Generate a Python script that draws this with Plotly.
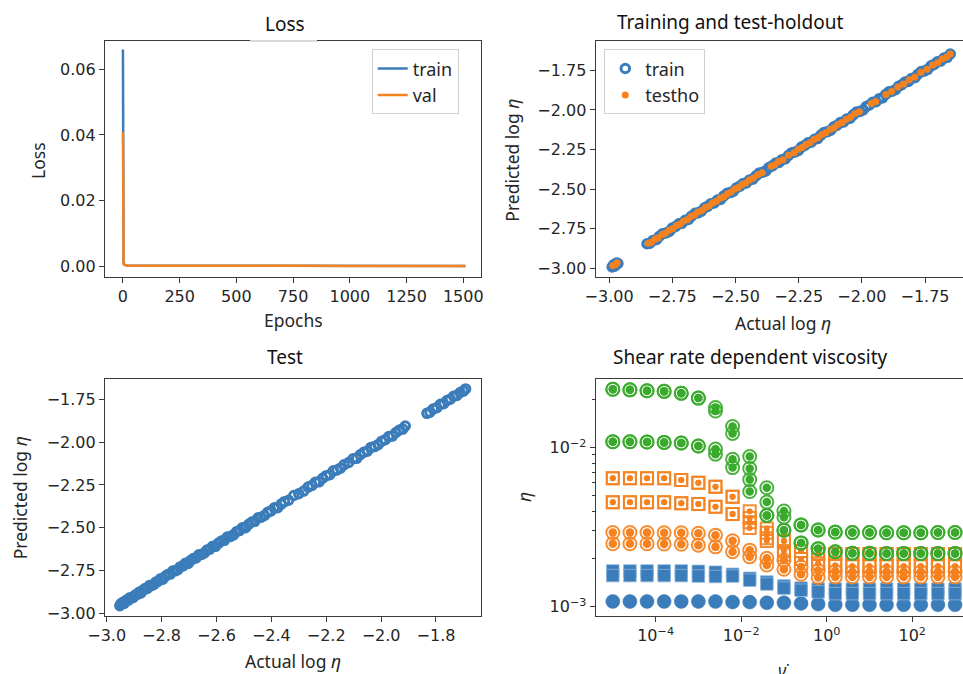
import plotly.graph_objects as go

W, H = 963, 674
BLUE = "#3b7dba"
ORANGE = "#f5821f"
GREEN = "#3aaa2c"
AX = "#3a3a3a"
TXT = "#262626"

# ---------------- Loss panel data ----------------
epochs = [0, 1, 2, 3, 5, 8, 12, 20, 50, 100, 200, 400, 600, 800, 1000, 1200, 1400, 1509]
loss_train = [0.0661, 0.0123, 0.0021, 0.0009, 0.0005, 0.0003, 0.0002, 0.00015, 0.0001, 0.00008,
              0.00006, 0.00005, 0.00004, 0.00004, 0.00003, 0.00003, 0.00003, 0.00003]
loss_val = [0.0410, 0.0065, 0.0015, 0.0007, 0.0004, 0.0003, 0.0002, 0.00014, 0.0001, 0.00008,
            0.00006, 0.00005, 0.00004, 0.00004, 0.00003, 0.00003, 0.00003, 0.00003]

# ---------------- Training and test-holdout data ----------------
train_actual = [-2.988, -2.982, -2.976, -2.970, -2.965, -2.980,
    -2.850, -2.838, -2.826, -2.812, -2.801, -2.789, -2.775, -2.762, -2.750, -2.737,
    -2.724, -2.712, -2.699, -2.686, -2.674, -2.660, -2.648, -2.635, -2.622, -2.610,
    -2.597, -2.584, -2.571, -2.559, -2.546, -2.533, -2.520, -2.508, -2.495, -2.482,
    -2.469, -2.457, -2.444, -2.431, -2.418, -2.405, -2.392, -2.380, -2.367, -2.354,
    -2.341, -2.328, -2.316, -2.303, -2.290, -2.277, -2.264, -2.251, -2.239, -2.226,
    -2.213, -2.200, -2.187, -2.175, -2.162, -2.149, -2.136, -2.123, -2.110, -2.098,
    -2.085, -2.072, -2.059, -2.046, -2.034, -2.021, -2.008, -1.995, -1.982, -1.970,
    -1.957, -1.944, -1.931, -1.918, -1.906, -1.893, -1.880, -1.867, -1.854, -1.842,
    -1.829, -1.816, -1.803, -1.790, -1.778, -1.765, -1.752, -1.739, -1.726, -1.714,
    -1.701, -1.688, -1.675, -1.662, -1.650]
train_pred = [-2.992, -2.978, -2.984, -2.966, -2.970, -2.986,
    -2.845, -2.842, -2.824, -2.818, -2.798, -2.782, -2.777, -2.767, -2.746, -2.736,
    -2.719, -2.716, -2.697, -2.692, -2.671, -2.653, -2.650, -2.640, -2.618, -2.609,
    -2.592, -2.588, -2.569, -2.565, -2.543, -2.526, -2.522, -2.513, -2.491, -2.481,
    -2.464, -2.461, -2.442, -2.437, -2.415, -2.398, -2.394, -2.385, -2.363, -2.353,
    -2.336, -2.332, -2.314, -2.309, -2.287, -2.270, -2.266, -2.256, -2.235, -2.225,
    -2.208, -2.204, -2.185, -2.181, -2.159, -2.142, -2.138, -2.128, -2.106, -2.097,
    -2.080, -2.076, -2.057, -2.052, -2.031, -2.014, -2.010, -2.000, -1.978, -1.969,
    -1.952, -1.948, -1.929, -1.924, -1.903, -1.886, -1.882, -1.872, -1.850, -1.841,
    -1.824, -1.820, -1.801, -1.796, -1.775, -1.758, -1.754, -1.744, -1.722, -1.713,
    -1.696, -1.692, -1.673, -1.668, -1.647]
testho_actual = [-2.985, -2.975, -2.968, -2.845, -2.832, -2.818, -2.806, -2.790, -2.777, -2.762,
    -2.748, -2.733, -2.720, -2.706, -2.690, -2.676, -2.662, -2.648, -2.633, -2.619,
    -2.604, -2.590, -2.575, -2.561, -2.546, -2.532, -2.517, -2.503, -2.488, -2.474,
    -2.459, -2.445, -2.430, -2.412, -2.395, -2.358, -2.344, -2.329, -2.312, -2.290,
    -2.268, -2.252, -2.236, -2.221, -2.205, -2.190, -2.174, -2.158, -2.142, -2.126,
    -2.110, -2.094, -2.078, -2.062, -2.045, -2.028, -2.010, -1.962, -1.945, -1.905,
    -1.882, -1.858, -1.835, -1.812, -1.790, -1.766, -1.742, -1.720, -1.700, -1.682,
    -1.664, -1.650]
testho_pred = [-2.982, -2.978, -2.965, -2.842, -2.835, -2.815, -2.808, -2.787, -2.779, -2.760,
    -2.750, -2.730, -2.722, -2.703, -2.692, -2.673, -2.664, -2.645, -2.635, -2.616,
    -2.606, -2.587, -2.577, -2.558, -2.548, -2.529, -2.519, -2.500, -2.490, -2.471,
    -2.461, -2.442, -2.432, -2.409, -2.397, -2.355, -2.346, -2.326, -2.314, -2.287,
    -2.270, -2.249, -2.238, -2.218, -2.207, -2.187, -2.176, -2.155, -2.144, -2.123,
    -2.112, -2.091, -2.080, -2.059, -2.047, -2.025, -2.012, -1.959, -1.947, -1.902,
    -1.884, -1.855, -1.837, -1.809, -1.792, -1.763, -1.744, -1.717, -1.702, -1.679,
    -1.666, -1.647]

# ---------------- Test panel data ----------------
test_actual = [
    -2.952, -2.948, -2.944, -2.940, -2.936, -2.931, -2.926, -2.921, -2.915, -2.909,
    -2.903, -2.896, -2.889, -2.882, -2.875, -2.868, -2.860, -2.852, -2.844, -2.836,
    -2.828, -2.820, -2.812, -2.803, -2.795, -2.786, -2.777, -2.768, -2.759, -2.750,
    -2.741, -2.732, -2.722, -2.713, -2.703, -2.694, -2.684, -2.674, -2.664, -2.654,
    -2.644, -2.634, -2.624, -2.613, -2.603, -2.592, -2.582, -2.571, -2.560, -2.549,
    -2.538, -2.527, -2.516, -2.505, -2.494, -2.482, -2.471, -2.460, -2.448, -2.437,
    -2.425, -2.413, -2.401, -2.389, -2.377, -2.364, -2.352, -2.337, -2.318, -2.300,
    -2.282, -2.266, -2.252, -2.239, -2.226, -2.213, -2.200, -2.187, -2.174, -2.161,
    -2.148, -2.135, -2.118, -2.102, -2.089, -2.076, -2.063, -2.050, -2.037, -2.024,
    -2.011, -1.998, -1.985, -1.972, -1.959, -1.946, -1.933, -1.921, -1.912,
    -1.833, -1.822, -1.810, -1.797, -1.784, -1.772, -1.760, -1.748, -1.736, -1.724,
    -1.712, -1.700, -1.692]
test_pred = [
    -2.956, -2.945, -2.945, -2.935, -2.942, -2.929, -2.922, -2.924, -2.909, -2.911,
    -2.907, -2.893, -2.890, -2.877, -2.881, -2.866, -2.856, -2.855, -2.838, -2.838,
    -2.832, -2.817, -2.813, -2.798, -2.801, -2.784, -2.773, -2.771, -2.753, -2.752,
    -2.745, -2.729, -2.723, -2.708, -2.709, -2.692, -2.680, -2.677, -2.658, -2.656,
    -2.648, -2.631, -2.625, -2.608, -2.609, -2.590, -2.578, -2.574, -2.554, -2.551,
    -2.542, -2.524, -2.517, -2.500, -2.500, -2.480, -2.467, -2.463, -2.442, -2.439,
    -2.429, -2.410, -2.402, -2.384, -2.383, -2.362, -2.348, -2.340, -2.312, -2.302,
    -2.286, -2.263, -2.253, -2.234, -2.232, -2.211, -2.196, -2.190, -2.168, -2.163,
    -2.152, -2.132, -2.119, -2.097, -2.095, -2.074, -2.059, -2.053, -2.031, -2.026,
    -2.015, -1.995, -1.986, -1.967, -1.965, -1.944, -1.929, -1.924, -1.906,
    -1.832, -1.825, -1.806, -1.799, -1.779, -1.776, -1.757, -1.749, -1.732, -1.727,
    -1.710, -1.702, -1.689]

# ---------------- Shear rate dependent viscosity data ----------------
shear_rate = [1.000e-5, 2.512e-5, 6.310e-5, 1.585e-4, 3.981e-4, 1.000e-3, 2.512e-3, 6.310e-3,
              1.585e-2, 3.981e-2, 1.000e-1, 2.512e-1, 6.310e-1, 1.585e0, 3.981e0, 1.000e1,
              2.512e1, 6.310e1, 1.585e2, 3.981e2, 1.000e3]
eta_blue_circ = [0.00108, 0.00108, 0.00108, 0.00108, 0.00108, 0.00108, 0.00108, 0.00107, 0.00107,
                 0.00106, 0.00106, 0.00105, 0.00104, 0.00103, 0.00103, 0.00103, 0.00103, 0.00103,
                 0.00103, 0.00103, 0.00103]
eta_blue_sq_a = [0.00168, 0.00168, 0.00168, 0.00168, 0.00168, 0.00167, 0.00165, 0.00160, 0.00151,
                 0.00143, 0.00135, 0.00131, 0.00129, 0.00129, 0.00129, 0.00129, 0.00129, 0.00129,
                 0.00129, 0.00129, 0.00129]
eta_blue_sq_b = [0.00157, 0.00157, 0.00157, 0.00157, 0.00157, 0.00156, 0.00155, 0.00156, 0.00147,
                 0.00139, 0.00131, 0.00127, 0.00124, 0.00121, 0.00121, 0.00121, 0.00121, 0.00121,
                 0.00121, 0.00121, 0.00121]
eta_orange_circ_a = [0.00293, 0.00293, 0.00293, 0.00292, 0.00292, 0.00290, 0.00282, 0.00260, 0.00227,
                     0.00202, 0.00196, 0.00178, 0.00169, 0.00167, 0.00166, 0.00166, 0.00166, 0.00166,
                     0.00166, 0.00166, 0.00166]
eta_orange_circ_b = [0.00249, 0.00249, 0.00249, 0.00248, 0.00247, 0.00244, 0.00238, 0.00222, 0.00206,
                     0.00183, 0.00172, 0.00160, 0.00153, 0.00154, 0.00154, 0.00154, 0.00154, 0.00154,
                     0.00154, 0.00154, 0.00154]
eta_orange_sq_a = [0.00642, 0.00642, 0.00642, 0.00642, 0.00626, 0.00603, 0.00569, 0.00492, 0.00398,
                   0.00310, 0.00259, 0.00224, 0.00215, 0.00215, 0.00215, 0.00215, 0.00215, 0.00215,
                   0.00215, 0.00215, 0.00215]
eta_orange_sq_b = [0.00642, 0.00642, 0.00642, 0.00642, 0.00626, 0.00603, 0.00569, 0.00492, 0.00361,
                   0.00292, 0.00259, 0.00224, 0.00215, 0.00215, 0.00215, 0.00215, 0.00215, 0.00215,
                   0.00215, 0.00215, 0.00215]
eta_orange_sq_c = [0.00454, 0.00454, 0.00454, 0.00454, 0.00447, 0.00442, 0.00426, 0.00383, 0.00340,
                   0.00270, 0.00224, 0.00200, 0.00187, 0.00182, 0.00180, 0.00180, 0.00180, 0.00180,
                   0.00180, 0.00180, 0.00180]
eta_orange_sq_d = [0.00454, 0.00454, 0.00454, 0.00454, 0.00447, 0.00442, 0.00426, 0.00383, 0.00313,
                   0.00259, 0.00212, 0.00200, 0.00187, 0.00182, 0.00180, 0.00180, 0.00180, 0.00180,
                   0.00180, 0.00180, 0.00180]
eta_green_a = [0.0233, 0.0231, 0.0228, 0.0226, 0.0220, 0.0205, 0.0179, 0.0136, 0.0088, 0.0056,
               0.00400, 0.00327, 0.00304, 0.00295, 0.00293, 0.00293, 0.00292, 0.00292, 0.00292,
               0.00293, 0.00293]
eta_green_b = [0.0233, 0.0231, 0.0228, 0.0226, 0.0220, 0.0205, 0.0170, 0.0123, 0.0074, 0.00455,
               0.00366, 0.00327, 0.00304, 0.00294, 0.00293, 0.00293, 0.00292, 0.00292, 0.00292,
               0.00293, 0.00293]
eta_green_c = [0.0109, 0.0109, 0.01085, 0.0108, 0.0107, 0.01025, 0.0098, 0.00845, 0.0063, 0.00375,
               0.00303, 0.00252, 0.00232, 0.00222, 0.00217, 0.00217, 0.00216, 0.00216, 0.00216,
               0.00216, 0.00216]
eta_green_d = [0.0109, 0.0109, 0.01085, 0.0108, 0.0107, 0.01025, 0.0091, 0.0075, 0.0053, 0.00375,
               0.00303, 0.00252, 0.00232, 0.00222, 0.00217, 0.00217, 0.00216, 0.00216, 0.00216,
               0.00216, 0.00216]

# ---------------- layout helpers ----------------
def px_x(p):
    return p / W

def px_y(p):
    return 1 - p / H

TICKFONT = dict(family="DejaVu Sans", size=16, color=TXT)
LABELFONT = dict(family="Noto Sans", size=17.5, color=TXT)
TITLEFONT = dict(family="Noto Sans", size=19, color="#111111")

def axis(domain, rng, mirror, **kw):
    d = dict(domain=domain, range=rng, showline=True, linecolor=AX, linewidth=1.2,
             mirror=mirror, ticks="outside", ticklen=5, tickwidth=1.2, tickcolor=AX,
             showgrid=False, zeroline=False, tickfont=TICKFONT, automargin=False)
    d.update(kw)
    return d

fig = go.Figure()

# Loss panel
fig.add_trace(go.Scatter(x=epochs, y=loss_train, mode="lines", name="train",
                         line=dict(color=BLUE, width=2.5), xaxis="x", yaxis="y", legend="legend"))
fig.add_trace(go.Scatter(x=epochs, y=loss_val, mode="lines", name="val",
                         line=dict(color=ORANGE, width=2.5), xaxis="x", yaxis="y", legend="legend"))

# Training / test-holdout panel
fig.add_trace(go.Scatter(x=train_actual, y=train_pred, mode="markers", name="train",
                         marker=dict(symbol="circle-open", size=8.5, color=BLUE, line=dict(width=3, color=BLUE)),
                         xaxis="x2", yaxis="y2", legend="legend2"))
fig.add_trace(go.Scatter(x=testho_actual, y=testho_pred, mode="markers", name="testho",
                         marker=dict(symbol="circle", size=7, color=ORANGE, line=dict(width=0)),
                         xaxis="x2", yaxis="y2", legend="legend2"))

# Test panel
fig.add_trace(go.Scatter(x=test_actual, y=test_pred, mode="markers", showlegend=False,
                         marker=dict(symbol="circle-open", size=8.5, color=BLUE, line=dict(width=3, color=BLUE)),
                         xaxis="x3", yaxis="y3"))

# Viscosity panel
def ring_dot(yvals, color, sym_open, dot_sym, dot_size, open_size=13):
    fig.add_trace(go.Scatter(x=shear_rate, y=yvals, mode="markers", showlegend=False,
                             marker=dict(symbol=sym_open, size=open_size, color=color,
                                         line=dict(width=2, color=color), opacity=0.9),
                             xaxis="x4", yaxis="y4"))
    fig.add_trace(go.Scatter(x=shear_rate, y=yvals, mode="markers", showlegend=False,
                             marker=dict(symbol=dot_sym, size=dot_size, color=color, line=dict(width=0)),
                             xaxis="x4", yaxis="y4"))

fig.add_trace(go.Scatter(x=shear_rate, y=eta_blue_circ, mode="markers", showlegend=False,
                         marker=dict(symbol="circle", size=14, color=BLUE,
                                     line=dict(width=1, color="rgba(59,125,186,0.5)")),
                         xaxis="x4", yaxis="y4"))
for ys in (eta_blue_sq_a, eta_blue_sq_b):
    fig.add_trace(go.Scatter(x=shear_rate, y=ys, mode="markers", showlegend=False,
                             marker=dict(symbol="square", size=12.5, color=BLUE,
                                         line=dict(width=1, color="rgba(140,180,220,0.8)")),
                             xaxis="x4", yaxis="y4"))
for ys in (eta_orange_circ_a, eta_orange_circ_b):
    ring_dot(ys, ORANGE, "circle-open", "circle", 8.5)
for ys in (eta_orange_sq_a, eta_orange_sq_b, eta_orange_sq_c, eta_orange_sq_d):
    ring_dot(ys, ORANGE, "square-open", "circle", 6, open_size=12)
for ys in (eta_green_a, eta_green_b, eta_green_c, eta_green_d):
    ring_dot(ys, GREEN, "circle-open", "circle", 8.5)

# domains (pixel based)
xd_left = [px_x(105), px_x(481)]
xd_right = [px_x(595.7), 1.0]
yd_top = [px_y(277), px_y(41)]
yd_bot = [px_y(616), px_y(379.3)]

sup = lambda e: "10<sup>\u2212%d</sup>" % e if e > 0 else "10<sup>%d</sup>" % (-e)

LEGFONT = dict(family="Noto Sans", size=18, color=TXT)
fig.update_layout(
    width=W, height=H, margin=dict(l=0, r=0, t=0, b=0), autosize=False,
    paper_bgcolor="white", plot_bgcolor="white",
    xaxis=axis(xd_left, [-79, 1578], True, anchor="y",
               tickvals=[0, 250, 500, 750, 1000, 1250, 1500]),
    yaxis=axis(yd_top, [-0.00336, 0.0687], True, anchor="x",
               tickvals=[0.0, 0.02, 0.04, 0.06], tickformat=".2f"),
    xaxis2=axis(xd_right, [-3.053, -1.5997], True, anchor="y2",
                tickvals=[-3.0, -2.75, -2.5, -2.25, -2.0, -1.75], tickformat=".2f"),
    yaxis2=axis(yd_top, [-3.055, -1.565], False, anchor="x2",
                tickvals=[-3.0, -2.75, -2.5, -2.25, -2.0, -1.75], tickformat=".2f"),
    xaxis3=axis(xd_left, [-3.006, -1.636], True, anchor="y3",
                tickvals=[-3.0, -2.8, -2.6, -2.4, -2.2, -2.0, -1.8], tickformat=".1f"),
    yaxis3=axis(yd_bot, [-3.016, -1.633], True, anchor="x3",
                tickvals=[-3.0, -2.75, -2.5, -2.25, -2.0, -1.75], tickformat=".2f"),
    xaxis4=axis(xd_right, [-5.40, 3.186], True, anchor="y4", type="log",
                tickvals=[1e-4, 1e-2, 1, 100], ticktext=[sup(4), sup(2), sup(0), sup(-2)]),
    yaxis4=axis(yd_bot, [-3.058, -1.570], False, anchor="x4", type="log",
                tickvals=[1e-3, 1e-2], ticktext=[sup(3), sup(2)],
                minor=dict(tickvals=[2e-3, 3e-3, 4e-3, 5e-3, 6e-3, 7e-3, 8e-3, 9e-3, 2e-2],
                           ticks="outside", ticklen=3, tickwidth=1, tickcolor=AX, showgrid=False)),
    legend=dict(x=px_x(371.7), y=px_y(49.3), xanchor="left", yanchor="top",
                bgcolor="rgba(255,255,255,0.85)", bordercolor="#d0d0d0", borderwidth=1,
                font=LEGFONT, itemwidth=30, tracegroupgap=0),
    legend2=dict(x=px_x(604.3), y=px_y(49.3), xanchor="left", yanchor="top",
                 bgcolor="rgba(255,255,255,0.85)", bordercolor="#d0d0d0", borderwidth=1,
                 font=LEGFONT, itemwidth=30, tracegroupgap=0),
)

def ann(text, x, y, font, angle=0):
    fig.add_annotation(text=text, x=px_x(x), y=px_y(y), xref="paper", yref="paper",
                       xanchor="center", yanchor="middle", showarrow=False, font=font,
                       textangle=angle)

ann("Loss", 284.5, 24, TITLEFONT)
ann("Training and test-holdout", 729.7, 21.7, TITLEFONT)
ann("Test", 285.3, 357, TITLEFONT)
ann("Shear rate dependent viscosity", 750, 356.7, TITLEFONT)
ann("Loss", 38, 161, LABELFONT, -90)
ann("Epochs", 293, 320, LABELFONT)
ann("Predicted log <i>η</i>", 511.7, 160, LABELFONT, -90)
ann("Actual log <i>η</i>", 783.3, 322.7, LABELFONT)
ann("Predicted log <i>η</i>", 20, 498.3, LABELFONT, -90)
ann("Actual log <i>η</i>", 292.7, 660.7, LABELFONT)
ann("<i>η</i>", 523.3, 496.7, LABELFONT, -90)
ann("<i>γ̇</i>", 783.3, 670, LABELFONT)

# white patch of the "Loss" title box over the top spine
fig.add_shape(type="rect", xref="paper", yref="paper", x0=px_x(250), x1=px_x(317),
              y0=px_y(43), y1=px_y(39), fillcolor="white", line=dict(width=0), layer="above")
fig.add_shape(type="line", xref="paper", yref="paper", x0=px_x(250), x1=px_x(317),
              y0=px_y(41), y1=px_y(41), line=dict(color="#b5b5b5", width=1), layer="above")

fig.write_html("out.html")
